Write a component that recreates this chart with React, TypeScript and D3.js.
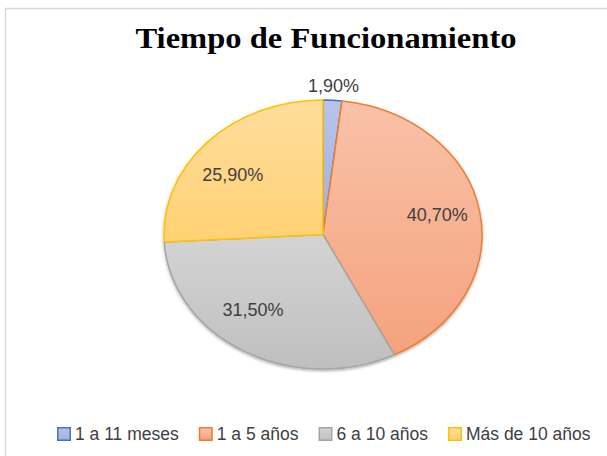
import React, { useEffect, useRef } from 'react';
import * as d3 from 'd3';

const categories = ['1 a 11 meses', '1 a 5 años', '6 a 10 años', 'Más de 10 años'];
const values = [1.9, 40.7, 31.5, 25.9];
const labels = ['1,90%', '40,70%', '31,50%', '25,90%'];
const strokes = ['#4472c4', '#ed7d31', '#a5a5a5', '#ffc000'];
const fillTop = ['#b7c5ea', '#f9c2a8', '#d4d4d4', '#ffdd9c'];
const fillBottom = ['#9db0de', '#f4a27e', '#bfbfbf', '#ffd174'];

// where each data label sits, as a fraction of the x / y radius (Excel "best fit")
const labelFx = [1.1, 0.73, 0.88, 0.78];
const labelFy = [1.11, 0.84, 0.65, 0.65];

export default function App() {
  const ref = useRef<SVGSVGElement>(null);

  useEffect(() => {
    const width = 607;
    const height = 456;
    const cx = 323;
    const cy = 234.5;
    const rx = 159;
    const ry = 134.5;

    const svg = d3.select(ref.current);
    svg.selectAll('*').remove();

    const defs = svg.append('defs');
    categories.forEach((c, i) => {
      const g = defs
        .append('linearGradient')
        .attr('id', 'grad' + i)
        .attr('x1', 0)
        .attr('y1', 0)
        .attr('x2', 0)
        .attr('y2', 1);
      g.append('stop').attr('offset', '0%').attr('stop-color', fillTop[i]);
      g.append('stop').attr('offset', '100%').attr('stop-color', fillBottom[i]);
    });
    const shadow = defs.append('filter').attr('id', 'shadow').attr('x', '-10%').attr('y', '-10%').attr('width', '120%').attr('height', '120%');
    shadow
      .append('feDropShadow')
      .attr('dx', 0)
      .attr('dy', 1.5)
      .attr('stdDeviation', 1.2)
      .attr('flood-color', '#000')
      .attr('flood-opacity', 0.3);

    svg.append('rect').attr('width', width).attr('height', height).attr('fill', '#fff');

    // chart frame
    svg
      .append('rect')
      .attr('x', 5.5)
      .attr('y', 8.5)
      .attr('width', 700)
      .attr('height', 500)
      .attr('fill', 'none')
      .attr('stroke', '#d9d9d9')
      .attr('stroke-width', 1.5);

    svg
      .append('text')
      .attr('x', 326)
      .attr('y', 48)
      .attr('text-anchor', 'middle')
      .attr('font-family', '"Liberation Serif", "Times New Roman", serif')
      .attr('font-weight', 'bold')
      .attr('font-size', 29)
      .attr('textLength', 381)
      .attr('lengthAdjust', 'spacingAndGlyphs')
      .attr('fill', '#000')
      .text('Tiempo de Funcionamiento');

    const pie = d3.pie<number>().sort(null).value(d => d);
    const arcs = pie(values);
    const arc = d3.arc<d3.PieArcDatum<number>>().innerRadius(0).outerRadius(ry);

    const g = svg
      .append('g')
      .attr('transform', `translate(${cx},${cy}) scale(${rx / ry},1)`)
      .attr('filter', 'url(#shadow)');

    g.selectAll('path')
      .data(arcs)
      .enter()
      .append('path')
      .attr('d', arc)
      .attr('fill', (d, i) => `url(#grad${i})`)
      .attr('stroke', (d, i) => strokes[i])
      .attr('stroke-width', 1.5)
      .attr('stroke-linejoin', 'round')
      .attr('vector-effect', 'non-scaling-stroke');

    // data labels
    arcs.forEach((d, i) => {
      const mid = (d.startAngle + d.endAngle) / 2;
      const x = cx + Math.sin(mid) * rx * labelFx[i];
      const y = cy - Math.cos(mid) * ry * labelFy[i];
      svg
        .append('text')
        .attr('x', x)
        .attr('y', y)
        .attr('dy', '0.35em')
        .attr('text-anchor', 'middle')
        .attr('font-family', '"Liberation Sans", Arial, sans-serif')
        .attr('font-size', 18)
        .attr('fill', '#404040')
        .text(labels[i]);
    });

    // legend
    const legend = svg.append('g').attr('transform', 'translate(57,427)');
    let offset = 0;
    categories.forEach((c, i) => {
      const item = legend.append('g').attr('transform', `translate(${offset},0)`);
      item
        .append('rect')
        .attr('x', 0.75)
        .attr('y', 0.75)
        .attr('width', 12.5)
        .attr('height', 12.5)
        .attr('fill', `url(#grad${i})`)
        .attr('stroke', strokes[i])
        .attr('stroke-width', 1.5);
      const t = item
        .append('text')
        .attr('x', 18)
        .attr('y', 13)
        .attr('font-family', '"Liberation Sans", Arial, sans-serif')
        .attr('font-size', 17.5)
        .attr('fill', '#404040')
        .text(c);
      const w = (t.node() as SVGTextElement).getComputedTextLength();
      offset += 18 + w + 20;
    });
  }, []);

  return (
    <svg
      ref={ref}
      width={607}
      height={456}
      style={{ position: 'absolute', left: 0, top: 0 }}
    />
  );
}
